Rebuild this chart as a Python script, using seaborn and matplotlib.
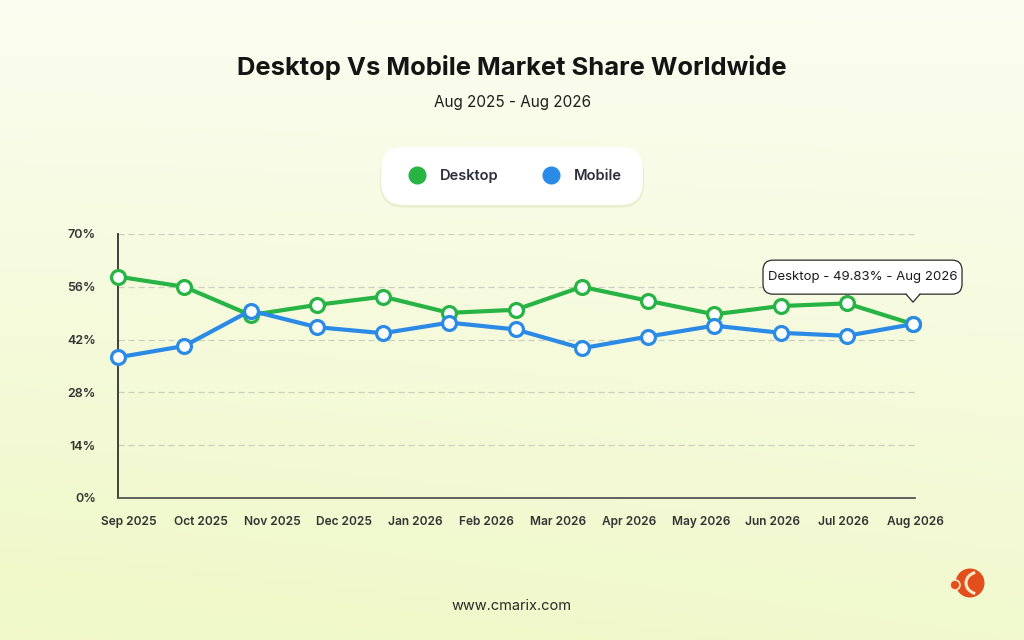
import numpy as np
import pandas as pd
import seaborn as sns
import matplotlib.pyplot as plt
from matplotlib.lines import Line2D
from matplotlib.patches import FancyBboxPatch, Polygon, Circle, Arc

# data
months = ["Sep 2025", "Oct 2025", "Nov 2025", "Dec 2025", "Jan 2026", "Feb 2026",
          "Mar 2026", "Apr 2026", "May 2026", "Jun 2026", "Jul 2026", "Aug 2026"]
desktop = [58.7, 56.0, 48.5, 51.2, 53.4, 49.1, 49.9, 56.0, 52.3, 48.7, 50.9, 51.6, 46.1]
mobile = [37.3, 40.3, 49.7, 45.3, 43.7, 46.5, 44.7, 39.7, 42.8, 45.7, 43.8, 43.0, 46.1]
y_ticks = [0, 14, 28, 42, 56, 70]
tooltip_text = "Desktop - 49.83% - Aug 2026"

GREEN = "#27b444"
BLUE = "#2a8ae6"
FONT = "Inter"

sns.set_style("white")
plt.rcParams["font.family"] = [FONT, "DejaVu Sans"]

df = pd.DataFrame({
    "step": list(range(len(desktop))) * 2,
    "share": desktop + mobile,
    "device": ["Desktop"] * len(desktop) + ["Mobile"] * len(mobile),
})

fig = plt.figure(figsize=(10.24, 6.4), dpi=100)

# background gradient
bg = fig.add_axes([0, 0, 1, 1], zorder=-10)
top = np.array([251, 253, 240]) / 255
bot = np.array([239, 248, 198]) / 255
yy = np.linspace(0, 1, 256)[:, None]
xx = np.linspace(0, 1, 256)[None, :]
t = np.clip(0.8 * yy + 0.2 * (1 - xx) * yy, 0, 1)
grad = top[None, None, :] * (1 - t[..., None]) + bot[None, None, :] * t[..., None]
bg.imshow(grad, aspect="auto", extent=[0, 1, 0, 1], origin="upper")
bg.axis("off")

ax = fig.add_axes([118 / 1024, 1 - 498 / 640, (915 - 118) / 1024, (498 - 234) / 640])
ax.set_facecolor("none")
sns.lineplot(data=df, x="step", y="share", hue="device", palette=[GREEN, BLUE],
             errorbar=None, linewidth=3, marker="o", markersize=10,
             markerfacecolor="white", markeredgewidth=2.3, legend=False, ax=ax,
             zorder=3, clip_on=False)
for ln, c in zip(ax.lines, [GREEN, BLUE]):
    ln.set_markeredgecolor(c)

ax.set_xlim(0, 12.03)
ax.set_ylim(0, 70)
ax.set_yticks(y_ticks)
ax.set_yticklabels([f"{v}%" for v in y_ticks])
ax.set_xticks(np.linspace(0.17, 12.03, len(months)))
ax.set_xticklabels(months)
ax.set_xlabel("")
ax.set_ylabel("")
for v in y_ticks[1:]:
    ax.axhline(v, color="#cdd0bc", lw=0.9, ls=(0, (5, 3)), zorder=1)
for s in ["top", "right"]:
    ax.spines[s].set_visible(False)
ax.spines["left"].set_color("#333333")
ax.spines["left"].set_linewidth(1.3)
ax.spines["bottom"].set_color("#555555")
ax.spines["bottom"].set_linewidth(1.3)
ax.tick_params(axis="y", length=0, pad=16, labelsize=9, labelcolor="#333333")
ax.tick_params(axis="x", length=4, width=1, color="#555555", pad=9,
               labelsize=8.6, labelcolor="#333333")
for lab in ax.get_xticklabels() + ax.get_yticklabels():
    lab.set_fontweight("semibold")

# title block
fig.text(0.5, 1 - 67 / 640, "Desktop Vs Mobile Market Share Worldwide",
         ha="center", va="center", fontsize=18.4, fontweight="bold", color="#141414")
fig.text(0.5, 1 - 102 / 640, "Aug 2025 - Aug 2026", ha="center", va="center",
         fontsize=11, color="#1e1e1e")

# legend
handles = [Line2D([], [], ls="", marker="o", ms=12, color=GREEN),
           Line2D([], [], ls="", marker="o", ms=12, color=BLUE)]
leg = fig.legend(handles, ["Desktop", "Mobile"], loc="center",
                 bbox_to_anchor=(512 / 1024, 1 - 176 / 640), ncol=2,
                 frameon=True, fancybox=True, framealpha=1, edgecolor="none",
                 facecolor="white", fontsize=10.5, handletextpad=0.55,
                 columnspacing=2.6, borderpad=0.75, borderaxespad=0,
                 shadow={"ox": 0, "oy": -1.5, "color": "#e6ecc8", "alpha": 0.7})
leg.get_frame().set_boxstyle("round,pad=0.75,rounding_size=1.6")
for txt in leg.get_texts():
    txt.set_fontweight("semibold")
    txt.set_color("#2b2e3b")

# overlay in pixel units for tooltip and logo
ov = fig.add_axes([0, 0, 1, 1], zorder=10)
ov.set_xlim(0, 1024)
ov.set_ylim(0, 640)
ov.axis("off")
px, py = ax.transData.transform((len(desktop) - 1, desktop[-1]))
box_w, box_h = 199, 34
bx0, by0 = px - 150, py + 30
ov.add_patch(FancyBboxPatch((bx0 + 8, by0 + 8), box_w - 16, box_h - 16,
                            boxstyle="round,pad=8,rounding_size=10",
                            fc="white", ec="#2a2a2a", lw=0.9, zorder=2))
ov.add_patch(Polygon([(px - 7, by0 + 1.2), (px + 7, by0 + 1.2), (px, py + 22)],
                     closed=True, fc="white", ec="none", zorder=3))
ov.plot([px - 7, px, px + 7], [by0, py + 22, by0], color="#2a2a2a", lw=0.9, zorder=4)
ov.text(bx0 + box_w / 2, by0 + box_h / 2, tooltip_text, ha="center", va="center",
        fontsize=9.5, color="#1a1a1a", zorder=5)

# footer and logo
fig.text(0.5, 1 - 606 / 640, "www.cmarix.com", ha="center", va="center",
         fontsize=10.5, color="#2a2a2a")
ov.add_patch(Circle((970, 57), 14.5, fc="#e24f1c", ec="none"))
ov.add_patch(Arc((979, 57), 26, 22, theta1=110, theta2=250, color="#fbe9c8", lw=2.2))
ov.add_patch(Circle((955, 55), 5, fc="#e24f1c", ec="#fbe9c8", lw=1.2))

fig.savefig("out.png", dpi=100)
